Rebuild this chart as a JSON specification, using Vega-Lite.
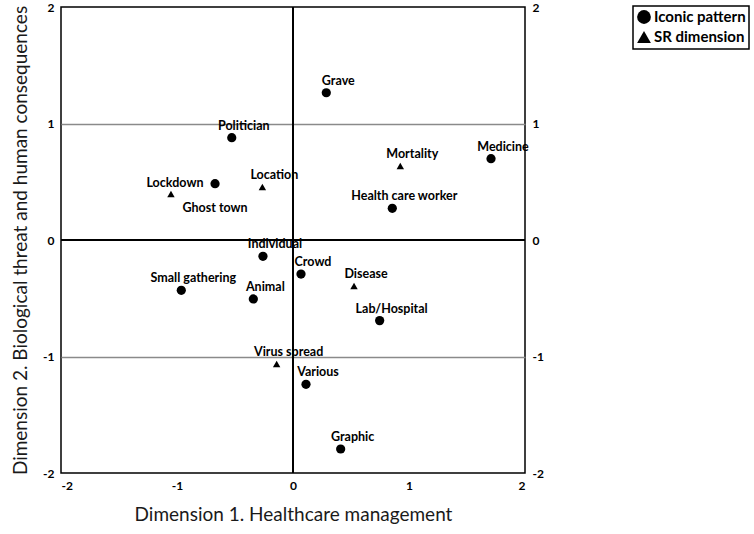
{
  "$schema": "https://vega.github.io/schema/vega-lite/v6.json",
  "width": 464,
  "height": 466,
  "autosize": "none",
  "padding": {"left": 61, "top": 7, "right": 229, "bottom": 61},
  "background": "white",
  "config": {
    "view": {"stroke": "black", "strokeWidth": 1.5},
    "font": "Lato",
    "legend": {"strokeWidth": 1.5},
    "axis": {"labelFont": "Lato", "labelFontWeight": "bold", "labelFontSize": 12, "labelColor": "black", "titleFont": "Lato", "titleFontWeight": "normal", "titleColor": "#1a1a1a", "titleFontSize": 19, "ticks": false, "domain": false}
  },
  "data": {"values": [
    {"label": "Grave", "type": "Iconic pattern", "d1": 0.287, "d2": 1.264},
    {"label": "Politician", "type": "Iconic pattern", "d1": -0.528, "d2": 0.878},
    {"label": "Ghost town", "type": "Iconic pattern", "d1": -0.672, "d2": 0.483},
    {"label": "Lockdown", "type": "SR dimension", "d1": -1.052, "d2": 0.395},
    {"label": "Location", "type": "SR dimension", "d1": -0.264, "d2": 0.455},
    {"label": "Mortality", "type": "SR dimension", "d1": 0.925, "d2": 0.635},
    {"label": "Medicine", "type": "Iconic pattern", "d1": 1.707, "d2": 0.698},
    {"label": "Health care worker", "type": "Iconic pattern", "d1": 0.856, "d2": 0.272},
    {"label": "Individual", "type": "Iconic pattern", "d1": -0.259, "d2": -0.14},
    {"label": "Crowd", "type": "Iconic pattern", "d1": 0.069, "d2": -0.292},
    {"label": "Disease", "type": "SR dimension", "d1": 0.526, "d2": -0.395},
    {"label": "Lab/Hospital", "type": "Iconic pattern", "d1": 0.747, "d2": -0.692},
    {"label": "Small gathering", "type": "Iconic pattern", "d1": -0.963, "d2": -0.432},
    {"label": "Animal", "type": "Iconic pattern", "d1": -0.342, "d2": -0.506},
    {"label": "Virus spread", "type": "SR dimension", "d1": -0.141, "d2": -1.064},
    {"label": "Various", "type": "Iconic pattern", "d1": 0.112, "d2": -1.239},
    {"label": "Graphic", "type": "Iconic pattern", "d1": 0.411, "d2": -1.794}
  ]},
  "resolve": {"axis": {"y": "independent"}},
  "layer": [
    {
      "mark": {"type": "rule", "color": "black", "strokeWidth": 2},
      "encoding": {
        "y": {"datum": 0, "type": "quantitative", "scale": {"domain": [-2, 2], "nice": false, "zero": false},
              "axis": {"orient": "right", "values": [-2, -1, 0, 1, 2], "format": "d", "title": null, "labelPadding": 7, "grid": false, "labelExpr": "replace(datum.label, '\u2212', '-')"}}
      }
    },
    {
      "mark": {"type": "rule", "color": "black", "strokeWidth": 2},
      "encoding": {
        "x": {"datum": 0, "type": "quantitative", "scale": {"domain": [-2, 2], "nice": false, "zero": false}}
      }
    },
    {
      "mark": {"type": "point", "filled": true, "color": "black", "opacity": 1},
      "encoding": {
        "x": {"field": "d1", "type": "quantitative", "scale": {"domain": [-2, 2], "nice": false, "zero": false},
              "axis": {"orient": "bottom", "values": [-2, -1, 0, 1, 2], "format": "d", "title": "Dimension 1. Healthcare management", "grid": false, "labelPadding": 7, "titlePadding": 14, "labelExpr": "replace(datum.label, '\u2212', '-')"}},
        "y": {"field": "d2", "type": "quantitative", "scale": {"domain": [-2, 2], "nice": false, "zero": false},
              "axis": {"orient": "left", "values": [-2, -1, 0, 1, 2], "format": "d", "title": "Dimension 2. Biological threat and human consequences", "labelPadding": 7, "titlePadding": 12, "grid": true, "gridWidth": 1.5, "labelExpr": "replace(datum.label, '\u2212', '-')",
                       "gridColor": {"condition": {"test": "abs(datum.value) == 1", "value": "#8a8a8a"}, "value": "transparent"}}},
        "shape": {"field": "type", "type": "nominal",
                  "scale": {"domain": ["Iconic pattern", "SR dimension"], "range": ["circle", "triangle-up"]},
                  "legend": {"title": null, "orient": "none", "legendX": 572, "legendY": -1, "strokeColor": "black", "padding": 3,
                             "symbolFillColor": "black", "symbolStrokeColor": "black", "symbolSize": 190, "labelFont": "Lato", "labelFontWeight": "bold", "labelFontSize": 15, "labelColor": "black", "rowPadding": 1, "labelOffset": 2, "fillColor": "white"}},
        "size": {"condition": {"test": "datum.type == 'SR dimension'", "value": 55}, "value": 85}
      }
    },
    {
      "transform": [{"filter": "datum.label != 'Ghost town' && datum.label != 'Lockdown'"}],
      "mark": {"type": "text", "font": "Lato", "fontWeight": "bold", "fontSize": 12.5, "color": "black", "dx": 12, "dy": -12, "baseline": "middle", "align": "center"},
      "encoding": {
        "x": {"field": "d1", "type": "quantitative"},
        "y": {"field": "d2", "type": "quantitative", "axis": null},
        "text": {"field": "label"}
      }
    },
    {
      "transform": [{"filter": "datum.label == 'Lockdown'"}],
      "mark": {"type": "text", "font": "Lato", "fontWeight": "bold", "fontSize": 12.5, "color": "black", "dx": 4, "dy": -11, "baseline": "middle", "align": "center"},
      "encoding": {
        "x": {"field": "d1", "type": "quantitative"},
        "y": {"field": "d2", "type": "quantitative", "axis": null},
        "text": {"field": "label"}
      }
    },
    {
      "transform": [{"filter": "datum.label == 'Ghost town'"}],
      "mark": {"type": "text", "font": "Lato", "fontWeight": "bold", "fontSize": 12.5, "color": "black", "dx": 0, "dy": 24, "baseline": "middle", "align": "center"},
      "encoding": {
        "x": {"field": "d1", "type": "quantitative"},
        "y": {"field": "d2", "type": "quantitative", "axis": null},
        "text": {"field": "label"}
      }
    }
  ]
}
